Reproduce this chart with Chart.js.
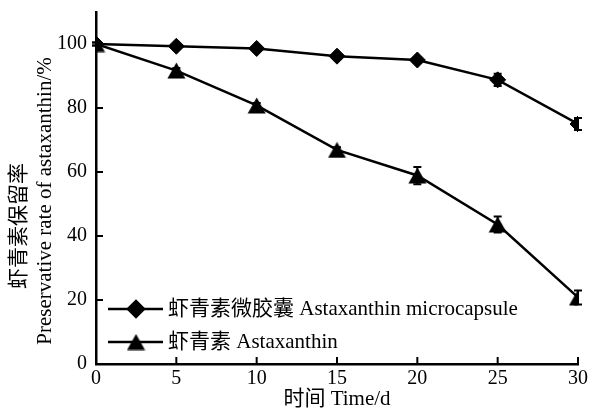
<!DOCTYPE html>
<html>
<head>
<meta charset="utf-8">
<script src="https://cdn.jsdelivr.net/npm/chart.js@4/dist/chart.umd.min.js"></script>
<style>
  html, body { margin: 0; padding: 0; background: #fff; }
  #wrap { width: 589px; height: 412px; position: relative; }
</style>
</head>
<body>
<div id="wrap"><canvas id="c" width="589" height="412"></canvas></div>
<script>
// Storage time in days
const days = [0, 5, 10, 15, 20, 25, 30];
// Retention of astaxanthin (%) for each sample, with error bar half-lengths
const microcapsule = [100, 99.3, 98.6, 96.2, 95.0, 88.8, 75.0];
const microcapsuleErr = [0.5, 0.6, 0.6, 0.7, 0.9, 1.9, 1.9];
const freeAstaxanthin = [100, 91.7, 80.8, 66.9, 58.9, 43.6, 20.8];
const freeAstaxanthinErr = [0.5, 0.8, 0.8, 0.8, 2.7, 2.5, 2.2];
const seriesNames = ['虾青素微胶囊 Astaxanthin microcapsule', '虾青素 Astaxanthin'];
const yTitleLines = ['虾青素保留率', 'Preservative rate of astaxanthin/%'];
const xTitle = '时间 Time/d';
const yTicks = [0, 20, 40, 60, 80, 100];
const xTicks = [0, 5, 10, 15, 20, 25, 30];

const serif = '"Liberation Serif", "Noto Sans CJK SC", serif';

function toPoints(xs, ys) { return xs.map((x, i) => ({ x: x, y: ys[i] })); }

// Solid triangle marker centred on its bounding box
function makeTriangle(w, h) {
  const c = document.createElement('canvas');
  c.width = w + 1; c.height = h + 1;
  const g = c.getContext('2d');
  g.fillStyle = '#000';
  g.beginPath();
  g.moveTo((w + 1) / 2, 0.5);
  g.lineTo(w + 0.5, h + 0.5);
  g.lineTo(0.5, h + 0.5);
  g.closePath();
  g.fill();
  return c;
}
const triangleMarker = makeTriangle(18, 16);

// Vertical error bars with short caps, drawn beneath the markers
const errorBars = {
  id: 'errorBars',
  beforeDatasetsDraw(chart) {
    const ctx = chart.ctx, xs = chart.scales.x, ys = chart.scales.y;
    ctx.save();
    ctx.strokeStyle = '#000';
    ctx.lineWidth = 2;
    chart.data.datasets.forEach(ds => {
      (ds.errors || []).forEach((e, i) => {
        const p = ds.data[i];
        const px = xs.getPixelForValue(p.x);
        const top = ys.getPixelForValue(p.y + e);
        const bot = ys.getPixelForValue(p.y - e);
        ctx.beginPath();
        ctx.moveTo(px, top); ctx.lineTo(px, bot);
        ctx.moveTo(px - 4, top); ctx.lineTo(px + 4, top);
        ctx.moveTo(px - 4, bot); ctx.lineTo(px + 4, bot);
        ctx.stroke();
      });
    });
    ctx.restore();
  }
};

// Legend inside the plot: short line with the marker in the middle
const innerLegend = {
  id: 'innerLegend',
  afterDraw(chart) {
    const ctx = chart.ctx, area = chart.chartArea;
    ctx.save();
    ctx.font = '21px ' + serif;
    ctx.textBaseline = 'middle';
    ctx.fillStyle = '#000';
    const rows = [area.bottom - 55, area.bottom - 22];
    chart.data.datasets.forEach((ds, i) => {
      const y = rows[i];
      const x0 = area.left + 12, x1 = area.left + 67;
      ctx.strokeStyle = '#000';
      ctx.lineWidth = 2.5;
      ctx.beginPath(); ctx.moveTo(x0, y); ctx.lineTo(x1, y); ctx.stroke();
      ctx.fillStyle = '#000';
      Chart.helpers.drawPoint(ctx, {
        pointStyle: ds.pointStyle, radius: ds.pointRadius, borderWidth: 1, rotation: 0
      }, Math.round((x0 + x1) / 2), Math.round(y));
      ctx.fillStyle = '#000';
      ctx.fillText(ds.label, x1 + 5, y);
    });
    ctx.restore();
  }
};

// Two-line rotated title for the value axis
const yTitle = {
  id: 'yTitle',
  afterDraw(chart) {
    const ctx = chart.ctx, a = chart.chartArea;
    const mid = (a.top + a.bottom) / 2;
    ctx.save();
    ctx.fillStyle = '#000';
    ctx.font = '21px ' + serif;
    ctx.textAlign = 'center';
    ctx.textBaseline = 'middle';
    [[19, mid + 38], [45, mid + 13]].forEach((pos, i) => {
      ctx.save();
      ctx.translate(pos[0], pos[1]);
      ctx.rotate(-Math.PI / 2);
      ctx.fillText(yTitleLines[i], 0, 0);
      ctx.restore();
    });
    ctx.restore();
  }
};

// Tick marks pointing into the plot
const innerTicks = {
  id: 'innerTicks',
  afterDraw(chart) {
    const ctx = chart.ctx, a = chart.chartArea, xs = chart.scales.x, ys = chart.scales.y;
    ctx.save();
    ctx.strokeStyle = '#000'; ctx.lineWidth = 2;
    ctx.beginPath();
    xTicks.forEach(v => { const px = xs.getPixelForValue(v); ctx.moveTo(px, a.bottom); ctx.lineTo(px, a.bottom - 7); });
    yTicks.forEach(v => { const py = ys.getPixelForValue(v); ctx.moveTo(a.left, py); ctx.lineTo(a.left + 7, py); });
    ctx.stroke();
    ctx.restore();
  }
};

new Chart(document.getElementById('c'), {
  type: 'line',
  data: {
    datasets: [
      {
        label: seriesNames[0],
        data: toPoints(days, microcapsule),
        errors: microcapsuleErr,
        borderColor: '#000', backgroundColor: '#000', borderWidth: 2.5,
        pointStyle: 'rectRot', pointRadius: 8, pointBorderWidth: 1,
        pointBackgroundColor: '#000', pointBorderColor: '#000', tension: 0
      },
      {
        label: seriesNames[1],
        data: toPoints(days, freeAstaxanthin),
        errors: freeAstaxanthinErr,
        borderColor: '#000', backgroundColor: '#000', borderWidth: 2.5,
        pointStyle: triangleMarker, pointRadius: 9, pointBorderWidth: 1,
        pointBackgroundColor: '#000', pointBorderColor: '#000', tension: 0
      }
    ]
  },
  options: {
    responsive: false,
    animation: false,
    layout: { padding: { top: 12, right: 11, left: 0, bottom: 0 } },
    plugins: { legend: { display: false }, tooltip: { enabled: false } },
    scales: {
      x: {
        type: 'linear', min: 0, max: 30,
        afterBuildTicks(s) { s.ticks = xTicks.map(v => ({ value: v })); },
        afterFit(s) { s.height = 48; s.paddingLeft = 0; s.paddingRight = 0; },
        grid: { display: false, drawTicks: false },
        border: { display: true, color: '#000', width: 2.5 },
        ticks: { color: '#000', font: { family: serif, size: 20 }, padding: 3, maxRotation: 0 },
        title: {
          display: true, text: xTitle, color: '#000',
          font: { family: serif, size: 21 }, padding: { top: 4, bottom: 0 }
        }
      },
      y: {
        type: 'linear', min: 0, max: 110,
        afterBuildTicks(s) { s.ticks = yTicks.map(v => ({ value: v })); },
        afterFit(s) { s.width = 96; s.paddingTop = 0; s.paddingBottom = 0; },
        grid: { display: false, drawTicks: false },
        border: { display: true, color: '#000', width: 2.5 },
        ticks: { color: '#000', font: { family: serif, size: 20 }, padding: 9 },
        title: { display: false }
      }
    }
  },
  plugins: [errorBars, innerLegend, yTitle, innerTicks]
});
</script>
</body>
</html>
